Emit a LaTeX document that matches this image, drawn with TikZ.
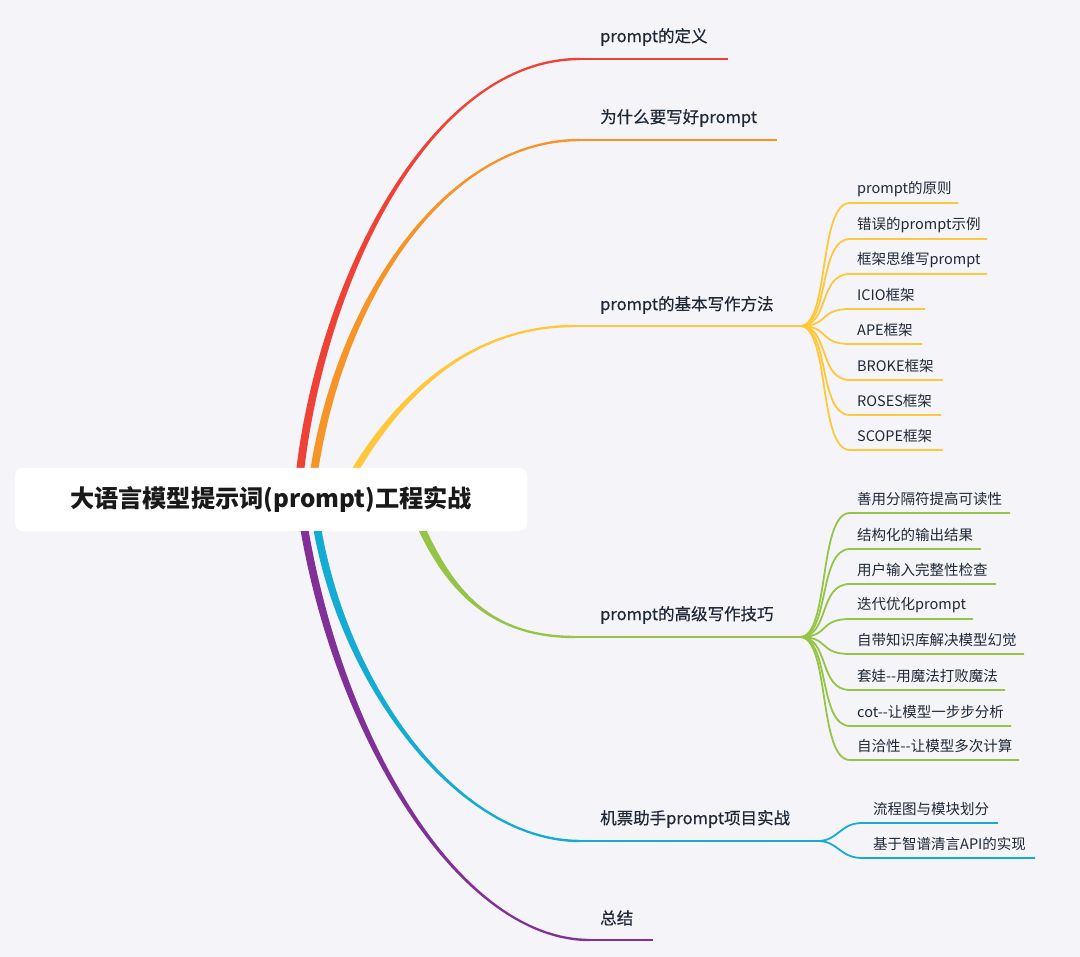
\documentclass[tikz,border=0pt]{standalone}
\usepackage{fontspec}
\setmainfont{Noto Sans CJK SC}
\newfontfamily\medf{Noto Sans CJK SC}[FakeBold=0.4]
\usetikzlibrary{calc}
\definecolor{bg}{RGB}{245,245,249}
\definecolor{cred}{RGB}{238,66,54}
\definecolor{corange}{RGB}{247,148,40}
\definecolor{cyellow}{RGB}{255,200,60}
\definecolor{cgreen}{RGB}{150,196,70}
\definecolor{ccyan}{RGB}{20,172,210}
\definecolor{cpurple}{RGB}{128,48,150}
\definecolor{txt}{RGB}{30,40,55}
% tapered main branch: color, start, ctrl1, ctrl2, end, end-offset-a, end-offset-b
\newcommand\mmtaper[7]{%
 \fill[#1] ($(#2)+(-4,0)$) .. controls ($(#3)+(-4,0)$) and ($(#4)+(0,#6)$) .. ($(#5)+(0,#6)$)
   -- ($(#5)+(0,#7)$) .. controls ($(#4)+(0,#7)$) and ($(#3)+(4,0)$) .. ($(#2)+(4,0)$) -- cycle;}
\begin{document}
\begin{tikzpicture}[x=1pt,y=-1pt,
  uline/.style={line width=2pt},
  subline/.style={line width=1.8pt},
  mainlbl/.style={anchor=west,inner sep=0pt,text=txt,font=\medf\fontsize{16.5}{20}\selectfont},
  sublbl/.style={anchor=west,inner sep=0pt,text=txt,font=\fontsize{14.5}{18}\selectfont},
  rootbox/.style={fill=white,rounded corners=8pt,minimum width=512pt,minimum height=63pt,inner sep=0pt,
     text=black!90,font=\bfseries\fontsize{24.2}{30}\selectfont}]
\fill[bg] (0,0) rectangle (1080,957);
\useasboundingbox (0,0) rectangle (1080,957);

% ---------- main branch geometry ----------
\coordinate (rS) at (300,472); \coordinate (rC1) at (322,280); \coordinate (rC2) at (430,59);  \coordinate (rE) at (580,59);  \coordinate (rU) at (728,59);
\coordinate (oS) at (314,472); \coordinate (oC1) at (340,300); \coordinate (oC2) at (445,140); \coordinate (oE) at (580,140); \coordinate (oU) at (777,140);
\coordinate (yS) at (354,472); \coordinate (yC1) at (400,395); \coordinate (yC2) at (470,326); \coordinate (yE) at (575,326); \coordinate (yhub) at (800,326);
\coordinate (gS) at (421,527); \coordinate (gC1) at (450,590); \coordinate (gC2) at (490,637); \coordinate (gE) at (575,637); \coordinate (ghub) at (800,637);
\coordinate (cS) at (317,527); \coordinate (cC1) at (345,690); \coordinate (cC2) at (460,841); \coordinate (cE) at (580,841); \coordinate (chub) at (818,841);
\coordinate (pS) at (304,527); \coordinate (pC1) at (340,740); \coordinate (pC2) at (460,940); \coordinate (pE) at (590,940); \coordinate (pU) at (653,940);

\mmtaper{cred}{rS}{rC1}{rC2}{rE}{-1.2}{1.2}
\draw[uline,cred] (rE) -- (rU);
\mmtaper{corange}{oS}{oC1}{oC2}{oE}{-1.2}{1.2}
\draw[uline,corange] (oE) -- (oU);
\mmtaper{cyellow}{yS}{yC1}{yC2}{yE}{-1.2}{1.2}
\draw[uline,cyellow] (yE) -- (yhub);
\mmtaper{cgreen}{gS}{gC1}{gC2}{gE}{1.2}{-1.2}
\draw[uline,cgreen] (gE) -- (ghub);
\mmtaper{ccyan}{cS}{cC1}{cC2}{cE}{1.2}{-1.2}
\draw[uline,ccyan] (cE) -- (chub);
\mmtaper{cpurple}{pS}{pC1}{pC2}{pE}{1.2}{-1.2}
\draw[uline,cpurple] (pE) -- (pU);

% ---------- main labels ----------
\node[mainlbl] (m1) at (600,37) {prompt的定义};
\node[mainlbl] (m2) at (600,118) {为什么要写好prompt};
\node[mainlbl] (m3) at (600,305) {prompt的基本写作方法};
\node[mainlbl] (m4) at (600,615) {prompt的高级写作技巧};
\node[mainlbl] (m5) at (600,819) {机票助手prompt项目实战};
\node[mainlbl] (m6) at (600,918) {总结};

% ---------- yellow sub-branches ----------
\foreach \n/\uy/\ue/\t in {1/203/958/prompt的原则,2/239/987/错误的prompt示例,3/274/987/框架思维写prompt,4/309/925/ICIO框架,5/344/922/APE框架,6/380/943/BROKE框架,7/415/941/ROSES框架,8/450/943/SCOPE框架}{
  \coordinate (ys\n a) at (850,\uy);
  \coordinate (ys\n b) at (\ue,\uy);
  \draw[subline,cyellow] (yhub) .. controls +(30,0) and +(-32,0) .. (ys\n a) -- (ys\n b);
  \node[sublbl] (yl\n) at (857,\uy-14) {\t};
}

% ---------- green sub-branches ----------
\foreach \n/\uy/\ue/\t in {1/513/1010/善用分隔符提高可读性,2/549/981/结构化的输出结果,3/584/996/用户输入完整性检查,4/619/973/迭代优化prompt,5/654/1024/自带知识库解决模型幻觉,6/690/1005/套娃-\kern0pt-用魔法打败魔法,7/726/1011/cot-\kern0pt-让模型一步步分析,8/760/1019/自洽性-\kern0pt-让模型多次计算}{
  \coordinate (gs\n a) at (850,\uy);
  \coordinate (gs\n b) at (\ue,\uy);
  \draw[subline,cgreen] (ghub) .. controls +(30,0) and +(-32,0) .. (gs\n a) -- (gs\n b);
  \node[sublbl] (gl\n) at (857,\uy-14) {\t};
}

% ---------- cyan sub-branches ----------
\coordinate (cs1a) at (862,823); \coordinate (cs1b) at (998,823);
\coordinate (cs2a) at (862,858); \coordinate (cs2b) at (1035,858);
\draw[subline,ccyan] (chub) .. controls +(20,0) and +(-22,0) .. (cs1a) -- (cs1b);
\draw[subline,ccyan] (chub) .. controls +(20,0) and +(-22,0) .. (cs2a) -- (cs2b);
\node[sublbl] (cl1) at (873,809) {流程图与模块划分};
\node[sublbl] (cl2) at (873,844) {基于智谱清言API的实现};

% ---------- root ----------
\node[rootbox] (root) at (271,499.5) {大语言模型提示词(prompt)工程实战};
\end{tikzpicture}
\end{document}
